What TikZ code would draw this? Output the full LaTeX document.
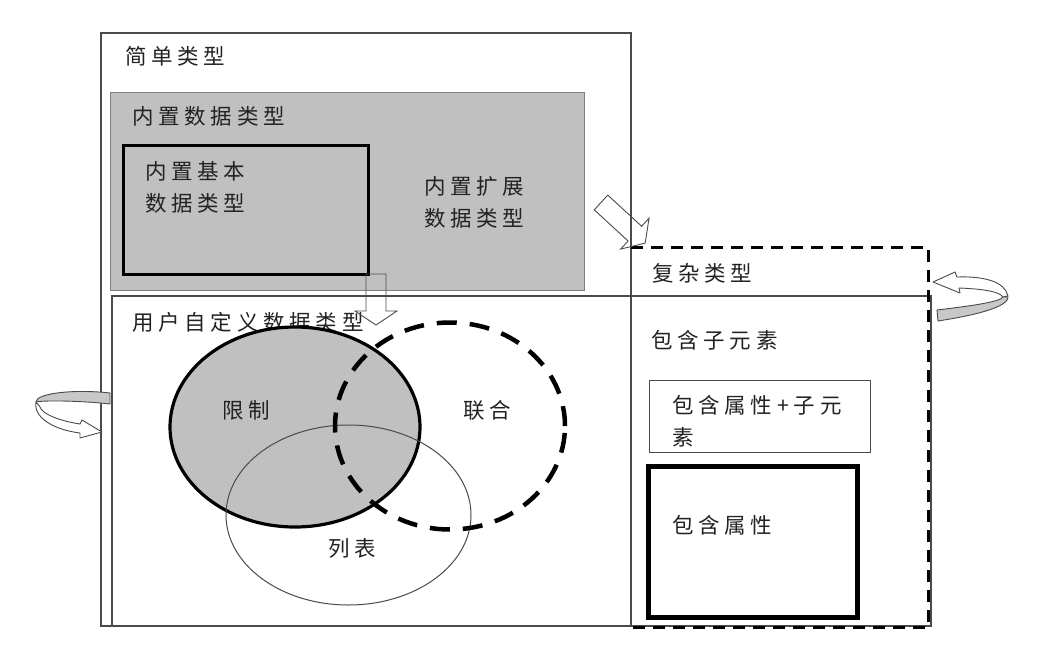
\documentclass[tikz,border=0pt]{standalone}
\usepackage{fontspec}
\usepackage{tikz}
\usetikzlibrary{positioning,fit,shapes.geometric}
\newfontfamily\cjk{Noto Sans CJK SC}[LetterSpace=22]
\definecolor{boxgray}{HTML}{C0C0C0}
\definecolor{edgegray}{HTML}{4A4A4A}
\definecolor{ink}{HTML}{222222}
\definecolor{ribbon}{HTML}{C8C8C8}

\begin{document}
\begin{tikzpicture}[x=1pt, y=-1pt, font=\cjk\fontsize{21.5}{32}\selectfont]

\tikzset{
  frame/.style={draw=edgegray, line width=1.2pt, inner sep=0pt},
  graybox/.style={draw=gray, fill=boxgray, line width=1pt, inner sep=0pt},
  boldbox/.style={draw=black, line width=3pt, inner sep=0pt},
  heavybox/.style={draw=black, line width=5pt, inner sep=0pt},
  restrictset/.style={ellipse, draw=black, fill=boxgray, line width=3.2pt, inner sep=0pt},
  listset/.style={ellipse, draw=edgegray, line width=1pt, inner sep=0pt},
  unionset/.style={ellipse, draw=black, line width=4.5pt, dash pattern=on 20pt off 13pt, inner sep=0pt},
  lbl/.style={anchor=west, inner sep=0pt, text=ink, align=left},
  twist/.style={draw=edgegray, line width=0.9pt, line join=round},
  blockarr/.pic={\draw[edgegray, line width=0.9pt, line join=miter]
      (0,-10) -- (#1-14,-10) -- (#1-14,-21) -- (#1,0) -- (#1-14,21) -- (#1-14,10) -- (0,10) -- cycle;}}

\useasboundingbox (0,0) rectangle (1056,671);

% simple types
\node[frame, fit={(101,33) (631,626)}] (simple) {};
\node[lbl] (simplet) at (125,56) {简单类型};

% built-in data types
\node[graybox, fit={(110,93) (584,290)}] (builtin) {};
\node[lbl] (builtint) at (132,116.5) {内置数据类型};
\node[boldbox, fit={(123,146) (368,274)}] (basic) {};
\node[lbl] (basict) at (145,187.5) {内置基本\\数据类型};
\node[lbl] (extt) at (424,202.5) {内置扩展\\数据类型};

% user defined data types
\node[frame, fit={(112,296) (931,626)}] (user) {};
\node[lbl] (usert) at (132,322) {用户自定义数据类型};

% complex types (dashed on three sides)
\node[inner sep=0pt, fit={(631,248) (928,627)}] (complex) {};
\draw[line width=3pt, dash pattern=on 12pt off 8pt]
  (complex.north west) -- (complex.north east) -- (complex.south east) -- (complex.south west);
\node[lbl] (complext) at (652,273) {复杂类型};
\node[lbl] (childt) at (651,340) {包含子元素};
\node[frame, line width=1pt, fit={(649,380) (870,452)}] (attrsub) {};
\node[lbl] (attrsubt) at (672,421) {包含属性+子元\\素};
\node[heavybox, fit={(648,466) (857,617)}] (attr) {};
\node[lbl] (attrt) at (672,525) {包含属性};

% restriction / list / union
\node[restrictset, minimum width=250pt, minimum height=200pt] (restrict) at (295,427) {};
\node[listset, minimum width=245pt, minimum height=180pt] (listing) at (348.5,515) {};
\node[unionset, minimum width=230pt, minimum height=207pt] (union) at (450,426) {};
\node[lbl] (restrictt) at (222,410) {限制};
\node[lbl] (uniont) at (463,410) {联合};
\node[lbl] (listt) at (328,548) {列表};

% block arrows
\pic[rotate=-90] at (376,274) {blockarr=51};
\pic[rotate=-42.6] at (601,202.5) {blockarr=60};

% twisted arrow on the left
\draw[twist, fill=ribbon] (110,393) .. controls (75,389) and (36,393) .. (36,402)
  .. controls (45,400) and (85,401) .. (110,404) -- cycle;
\draw[twist, fill=white] (36,402) .. controls (33,418) and (55,430) .. (80,433)
  -- (80,438) -- (102,432) -- (82,420) -- (80,424)
  .. controls (60,421) and (42,414) .. (40,407) -- cycle;

% twisted arrow on the right
\draw[twist, fill=white] (933,282) -- (955,272) -- (957,277)
  .. controls (985,276) and (1005,282) .. (1008,296) -- (1003,297)
  .. controls (1000,292) and (985,289) .. (959,288) -- (960,293) -- cycle;
\draw[twist, fill=ribbon] (1003,297) -- (1008,297) .. controls (1008,308) and (970,316) .. (938,321)
  -- (937,310) .. controls (970,306) and (1000,302) .. (1003,297) -- cycle;

\end{tikzpicture}
\end{document}
